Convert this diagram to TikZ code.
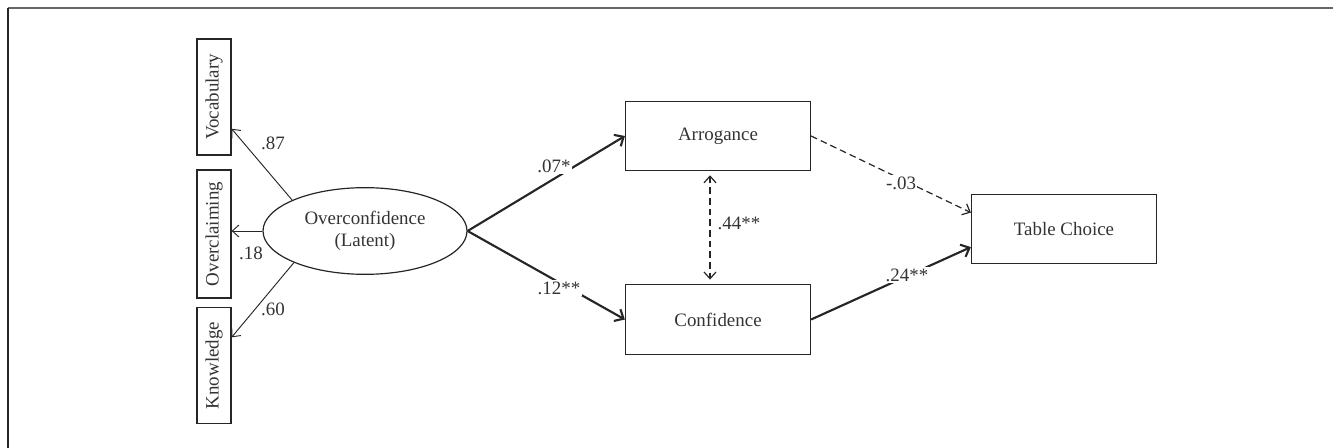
\documentclass[tikz,border=0pt]{standalone}
\usepackage{fontspec}
\setmainfont{Liberation Serif}
\usepackage{graphicx}
\usetikzlibrary{arrows.meta,shapes,positioning,calc}

\tikzset{
  latent/.style={draw=black!85, line width=0.9pt, ellipse, inner sep=0pt,
    minimum width=153pt, minimum height=65pt, align=center},
  indicator/.style={draw=black!85, line width=0.9pt, rectangle, inner sep=0pt,
    minimum width=25.5pt, minimum height=87pt},
  construct/.style={draw=black!85, line width=0.9pt, rectangle, inner sep=0pt,
    minimum width=138.75pt, minimum height=52pt},
  load/.style={draw=black!85, line width=0.7pt, -{Straight Barb[length=5pt,width=9pt]}},
  effect/.style={draw=black!85, line width=1.6pt, -{Straight Barb[length=5.5pt,width=10pt]}},
  nseffect/.style={draw=black!85, line width=0.9pt, dash pattern=on 5pt off 3pt,
    -{Straight Barb[length=5pt,width=9pt]}},
  corr/.style={nseffect, {Straight Barb[length=5pt,width=9pt]}-{Straight Barb[length=5pt,width=9pt]},
    shorten <=3pt, shorten >=3.5pt},
  coef/.style={inner sep=1pt},
  coefon/.style={coef, fill=white}
}

\begin{document}
\begin{tikzpicture}[x=0.75pt,y=-0.75pt,
    font=\fontsize{14.2}{16}\selectfont, text=black!80]
  \useasboundingbox (0,0) rectangle (1333,448);
  % frame
  \draw[black!60, line width=1pt] (8,8) -- (1333,8);
  \draw[black!85, line width=1pt] (8,8) -- (8,448);

  % measurement part
  \node[latent] (lat) at (365,231) {Overconfidence\\(Latent)};
  \node[indicator] (voc) at (214,97) {\rotatebox{90}{Vocabulary}};
  \node[indicator, minimum height=96pt] (ovc) at (214,234) {\rotatebox{90}{Overclaiming}};
  \node[indicator] (kno) at (214,365.5) {\rotatebox{90}{Knowledge}};

  \draw[load] (lat.157) -- (voc.-61);
  \draw[load] (lat.west) -- (lat.west -| ovc.east);
  \draw[load] (lat.204) -- (kno.58);
  \node[coef] (l87) at (273,143) {.87};
  \node[coef] (l18) at (251,253) {.18};
  \node[coef] (l60) at (273,309) {.60};

  % structural part
  \node[construct] (arr) at (718,136) {Arrogance};
  \node[construct] (conf) at (718,319.5) {Confidence};
  \node[construct] (tc) at (1064,229) {Table Choice};

  \draw[effect] (lat.east) -- (arr.west);
  \draw[effect] (lat.east) -- (conf.west);
  \draw[nseffect] (arr.east) -- (tc.170);
  \draw[effect] (conf.east) -- (tc.191);
  \draw[corr] ([xshift=-6pt]arr.south) -- ([xshift=-6pt]conf.north);

  \node[coefon] (b07) at (554,166) {.07*};
  \node[coefon] (b12) at (559,288) {.12**};
  \node[coef] (r44) at (739,223) {.44**};
  \node[coefon] (b03) at (901,183) {-.03};
  \node[coefon] (b24) at (907,275) {.24**};
\end{tikzpicture}
\end{document}
